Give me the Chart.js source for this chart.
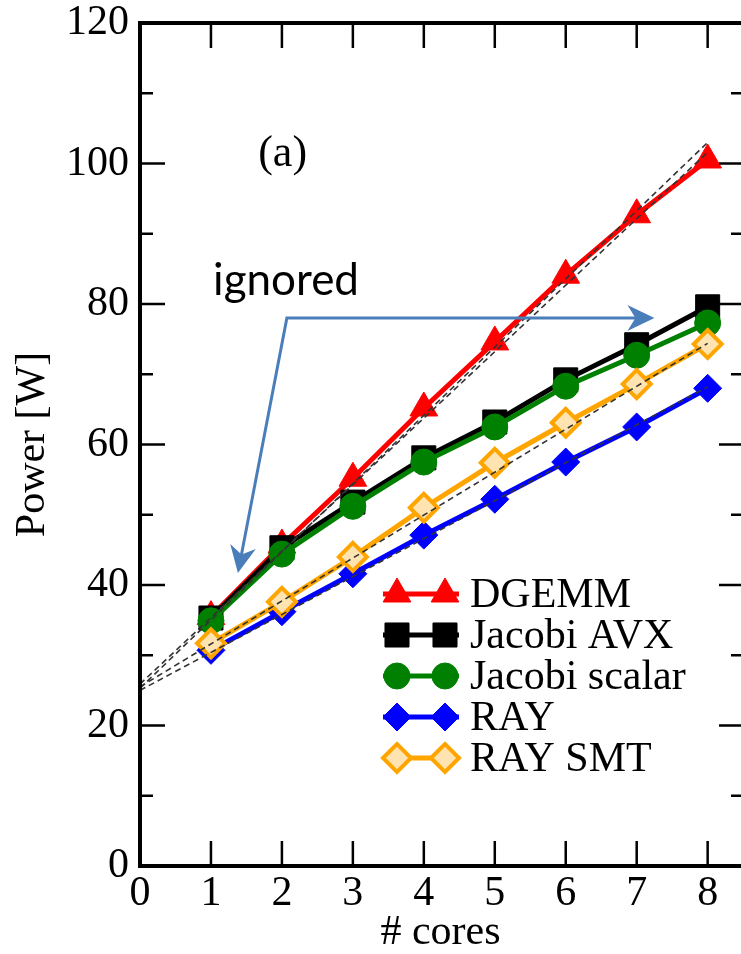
<!DOCTYPE html>
<html>
<head>
<meta charset="utf-8">
<script src="https://cdn.jsdelivr.net/npm/chart.js@4.4.1/dist/chart.umd.min.js"></script>
<style>
  html, body { margin: 0; padding: 0; background: #fff; }
  #wrap { width: 741px; height: 954px; }
</style>
</head>
<body>
<div id="wrap"><canvas id="chart1"></canvas></div>
<script>
// values
const cores = [1, 2, 3, 4, 5, 6, 7, 8];
const dgemm = [35.5, 45.7, 55.2, 65.2, 74.6, 84.1, 92.7, 100.5];
const jacobiAvx = [35.3, 45.3, 51.8, 58.1, 63.2, 69.2, 74.2, 79.6];
const jacobiScalar = [34.9, 44.4, 51.2, 57.5, 62.5, 68.3, 72.7, 77.3];
const ray = [30.7, 36.2, 41.6, 47.1, 52.2, 57.5, 62.5, 68.0];
const raySmt = [31.7, 37.6, 44.0, 51.0, 57.4, 63.1, 68.6, 74.3];

// dashed linear fits: value at 0 cores and at 8 cores
const fitX = [0, 8];
const fitDgemmA = [25.3, 103.0];
const fitDgemmB = [25.9, 101.6];
const fitRaySmt = [25.5, 74.4];
const fitRay = [25.0, 68.2];

const seriesNames = ['DGEMM', 'Jacobi AVX', 'Jacobi scalar', 'RAY', 'RAY SMT'];

const toPoints = (xs, ys) => xs.map((x, i) => ({x: x, y: ys[i]}));
const serif = 'Liberation Serif';

function fitLine(label, ys) {
    return {
        label: label,
        data: toPoints(fitX, ys),
        borderColor: '#333',
        borderWidth: 1.6,
        borderDash: [6, 4],
        pointRadius: 0,
        order: 0
    };
}

var decorations = {
    id: 'decorations',
    afterDatasetsDraw(chart) {
        const ctx = chart.ctx;
        const xs = chart.scales.x, ys = chart.scales.y;
        const px = v => xs.getPixelForValue(v);
        const py = v => ys.getPixelForValue(v);

        // annotation arrow
        const pts = [[1.38, 41.7], [2.07, 78.0], [7.25, 78.0]].map(p => [px(p[0]), py(p[1])]);
        ctx.save();
        ctx.strokeStyle = '#4a7ebb';
        ctx.fillStyle = '#4a7ebb';
        ctx.lineWidth = 3;
        const shorten = (a, b, d) => {
            const l = Math.hypot(a[0] - b[0], a[1] - b[1]);
            return [a[0] + (b[0] - a[0]) * d / l, a[1] + (b[1] - a[1]) * d / l];
        };
        const s = shorten(pts[0], pts[1], 14), e = shorten(pts[2], pts[1], 14);
        ctx.beginPath();
        ctx.moveTo(s[0], s[1]);
        ctx.lineTo(pts[1][0], pts[1][1]);
        ctx.lineTo(e[0], e[1]);
        ctx.stroke();
        const head = (tip, from) => {
            const ang = Math.atan2(tip[1] - from[1], tip[0] - from[0]);
            ctx.save();
            ctx.translate(tip[0], tip[1]);
            ctx.rotate(ang);
            ctx.beginPath();
            ctx.moveTo(0, 0);
            ctx.lineTo(-27, -13);
            ctx.lineTo(-19, 0);
            ctx.lineTo(-27, 13);
            ctx.closePath();
            ctx.fill();
            ctx.restore();
        };
        head(pts[0], pts[1]);
        head(pts[2], pts[1]);

        ctx.fillStyle = '#000';
        ctx.textBaseline = 'alphabetic';
        ctx.textAlign = 'left';
        ctx.font = '44px Lato';
        ctx.fillText('ignored', px(1.03), py(81.25));
        ctx.textAlign = 'center';
        ctx.font = '44px "' + serif + '"';
        ctx.fillText('(a)', px(2.01), py(99.6));
        ctx.restore();

        // legend
        const area = chart.chartArea;
        ctx.save();
        const lx = area.left + 243, ly = area.top + 571;
        chart.data.datasets.slice(0, 5).forEach((ds, i) => {
            const y = ly + i * 41;
            ctx.strokeStyle = ds.borderColor;
            ctx.lineWidth = ds.borderWidth;
            ctx.beginPath();
            ctx.moveTo(lx, y);
            ctx.lineTo(lx + 76, y);
            ctx.stroke();
            [lx + 14, lx + 62].forEach(mx => {
                ctx.fillStyle = ds.pointBackgroundColor;
                ctx.strokeStyle = ds.pointBorderColor;
                ctx.lineWidth = ds.pointBorderWidth;
                Chart.helpers.drawPoint(ctx, {
                    pointStyle: ds.pointStyle,
                    radius: ds.pointRadius,
                    rotation: 0,
                    borderWidth: ds.pointBorderWidth
                }, mx, y);
            });
            ctx.fillStyle = '#000';
            ctx.font = '42px "' + serif + '"';
            ctx.textAlign = 'left';
            ctx.textBaseline = 'middle';
            ctx.fillText(seriesNames[i], lx + 87, y + 2);
        });
        ctx.restore();

        // frame (right edge lies just outside the picture) and inward ticks
        ctx.save();
        ctx.strokeStyle = '#000';
        ctx.lineWidth = 4;
        ctx.beginPath();
        ctx.moveTo(chart.width, area.top);
        ctx.lineTo(area.left, area.top);
        ctx.lineTo(area.left, area.bottom);
        ctx.lineTo(chart.width, area.bottom);
        ctx.stroke();
        ctx.lineWidth = 2.5;
        ctx.beginPath();
        for (let v = 1; v <= 8; v++) {
            const x = px(v);
            ctx.moveTo(x, area.bottom); ctx.lineTo(x, area.bottom - 25);
            ctx.moveTo(x, area.top); ctx.lineTo(x, area.top + 25);
        }
        for (let v = 10; v < 120; v += 10) {
            const y = py(v);
            const len = v % 20 === 0 ? 25 : 13;
            ctx.moveTo(area.left, y); ctx.lineTo(area.left + len, y);
            ctx.moveTo(area.right + 3, y); ctx.lineTo(area.right + 3 - len, y);
        }
        ctx.stroke();
        ctx.restore();
    }
};

var ctx1 = document.getElementById('chart1').getContext('2d');
var myChart = new Chart(ctx1, {
    type: 'line',
    data: {
        datasets: [{
            label: 'DGEMM',
            data: toPoints(cores, dgemm),
            borderColor: '#ff0000',
            borderWidth: 5,
            pointStyle: 'triangle',
            pointRadius: 16,
            pointBackgroundColor: '#ff0000',
            pointBorderColor: '#ff0000',
            pointBorderWidth: 1,
            order: 5
        }, {
            label: 'Jacobi AVX',
            data: toPoints(cores, jacobiAvx),
            borderColor: '#000000',
            borderWidth: 5,
            pointStyle: 'rect',
            pointRadius: 17,
            pointBackgroundColor: '#000000',
            pointBorderColor: '#000000',
            pointBorderWidth: 1,
            order: 4
        }, {
            label: 'Jacobi scalar',
            data: toPoints(cores, jacobiScalar),
            borderColor: '#008000',
            borderWidth: 5,
            pointStyle: 'circle',
            pointRadius: 13,
            pointBackgroundColor: '#008000',
            pointBorderColor: '#008000',
            pointBorderWidth: 1,
            order: 3
        }, {
            label: 'RAY',
            data: toPoints(cores, ray),
            borderColor: '#0000ff',
            borderWidth: 5,
            pointStyle: 'rectRot',
            pointRadius: 14,
            pointBackgroundColor: '#0000ff',
            pointBorderColor: '#0000ff',
            pointBorderWidth: 1,
            order: 2
        }, {
            label: 'RAY SMT',
            data: toPoints(cores, raySmt),
            borderColor: '#ffa500',
            borderWidth: 5,
            pointStyle: 'rectRot',
            pointRadius: 14,
            pointBackgroundColor: '#ffe3b0',
            pointBorderColor: '#ffa500',
            pointBorderWidth: 4,
            order: 1
        },
        fitLine('fit DGEMM a', fitDgemmA),
        fitLine('fit DGEMM b', fitDgemmB),
        fitLine('fit RAY SMT', fitRaySmt),
        fitLine('fit RAY', fitRay)]
    },
    options: {
        responsive: true,
        maintainAspectRatio: false,
        animation: false,
        layout: { autoPadding: false, padding: { top: 23, right: 0, left: 0, bottom: 0 } },
        plugins: {
            legend: { display: false },
            tooltip: { enabled: false }
        },
        scales: {
            x: {
                type: 'linear',
                min: 0,
                max: 8.47,
                grid: { display: false, drawTicks: false },
                border: { display: false },
                ticks: {
                    stepSize: 1,
                    includeBounds: false,
                    autoSkip: false,
                    maxRotation: 0,
                    padding: 3,
                    color: '#000',
                    font: { family: serif, size: 42 }
                },
                title: {
                    display: true,
                    text: '# cores',
                    color: '#000',
                    font: { family: serif, size: 42, lineHeight: 1 },
                    padding: { top: 0, bottom: 0 }
                },
                afterFit: function (scale) {
                    scale.height = 88;
                    scale.paddingLeft = 0;
                    scale.paddingRight = 0;
                }
            },
            y: {
                min: 0,
                max: 120,
                grid: { display: false, drawTicks: false },
                border: { display: false },
                ticks: {
                    stepSize: 20,
                    autoSkip: false,
                    padding: 11,
                    color: '#000',
                    font: { family: serif, size: 42 }
                },
                title: {
                    display: true,
                    text: 'Power [W]',
                    color: '#000',
                    font: { family: serif, size: 42 },
                    padding: { top: 8, bottom: 0 }
                },
                afterFit: function (scale) {
                    scale.width = 140;
                    scale.paddingTop = 0;
                    scale.paddingBottom = 0;
                }
            }
        }
    },
    plugins: [decorations]
});
</script>
</body>
</html>
